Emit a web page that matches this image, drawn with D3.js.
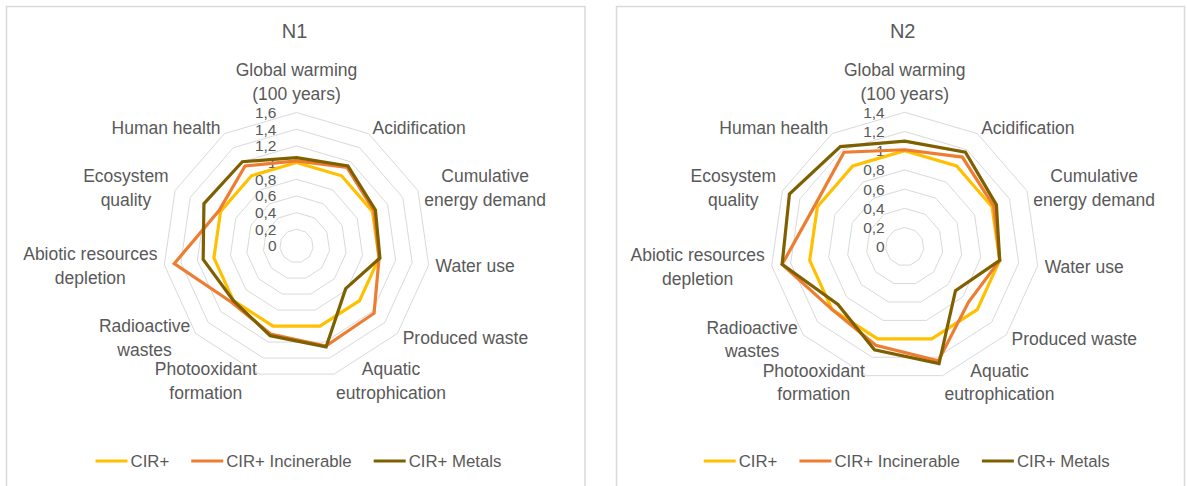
<!DOCTYPE html>
<html>
<head>
<meta charset="utf-8">
<script src="https://cdn.jsdelivr.net/npm/d3@7"></script>
<style>
  body { margin: 0; background: #fff; }
  text { font-family: "Liberation Sans", Arial, sans-serif; fill: #595959; }
</style>
</head>
<body>
<svg id="chart" width="1187" height="486"></svg>
<script>
// categories (clockwise from the top)
const axes = [
  "Global warming\n(100 years)", "Acidification", "Cumulative\nenergy demand", "Water use",
  "Produced waste", "Aquatic\neutrophication", "Photooxidant\nformation", "Radioactive\nwastes",
  "Abiotic resources\ndepletion", "Ecosystem\nquality", "Human health"
];
const seriesNames = ["CIR+", "CIR+ Incinerable", "CIR+ Metals"];
const colors = ["#FFC000", "#ED7D31", "#7F6000"];

// N1 values
const n1Cir = [1, 1, 1, 1, 1, 1, 1, 1, 1, 1, 1];
const n1Incinerable = [1.02, 1.12, 1.02, 1.0, 1.23, 1.25, 1.10, 1.03, 1.48, 1.02, 1.14];
const n1Metals = [1.06, 1.14, 1.04, 1.01, 0.78, 1.26, 1.12, 1.0, 1.13, 1.22, 1.20];
const n1Ticks = [0, 0.2, 0.4, 0.6, 0.8, 1, 1.2, 1.4, 1.6];

// N2 values
const n2Cir = [1, 1, 1, 1, 1, 1, 1, 1, 1, 1, 1];
const n2Incinerable = [1.01, 1.11, 1.02, 1.0, 0.88, 1.24, 1.07, 1.0, 1.29, 1.03, 1.17];
const n2Metals = [1.10, 1.17, 1.05, 1.0, 0.70, 1.27, 1.12, 0.92, 1.29, 1.32, 1.24];
const n2Ticks = [0, 0.2, 0.4, 0.6, 0.8, 1, 1.2, 1.4];

const svg = d3.select("#chart");

const charts = [
  { title: "N1", series: [n1Cir, n1Incinerable, n1Metals], ticks: n1Ticks,
    box: [6.5, 6.5, 578.5], cx: 296.5, cy: 246, R: 133.5 },
  { title: "N2", series: [n2Cir, n2Incinerable, n2Metals], ticks: n2Ticks,
    box: [616.5, 6.5, 568], cx: 904.7, cy: 246.7, R: 134.4 }
];

const lineH = 23.5;

charts.forEach(c => drawRadar(c));

function drawRadar(c) {
  // panel border
  svg.append("rect")
     .attr("x", c.box[0]).attr("y", c.box[1])
     .attr("width", c.box[2]).attr("height", 500)
     .attr("fill", "none")
     .attr("stroke", "#d9d9d9")
     .attr("stroke-width", 1.5);

  const g = svg.append("g").attr("transform", `translate(${c.cx},${c.cy})`);

  const r = d3.scaleLinear().domain([0, d3.max(c.ticks)]).range([0, c.R]);
  const angle = d3.scaleLinear().domain([0, axes.length]).range([0, 2 * Math.PI]);

  const radial = d3.lineRadial()
    .angle((d, i) => angle(i))
    .radius(d => r(d))
    .curve(d3.curveLinearClosed);

  // grid rings
  g.selectAll(".ring")
   .data(c.ticks.filter(t => t > 0))
   .enter().append("path")
   .attr("d", t => radial(axes.map(() => t)))
   .attr("fill", "none")
   .attr("stroke", "#d9d9d9")
   .attr("stroke-width", 1);

  // tick labels
  g.selectAll(".tick")
   .data(c.ticks)
   .enter().append("text")
   .attr("x", -20)
   .attr("y", t => -r(t))
   .attr("dy", "0.35em")
   .attr("text-anchor", "end")
   .attr("font-size", "15.5px")
   .text(t => String(t).replace(".", ","));

  // series
  c.series.forEach((vals, k) => {
    g.append("path")
     .attr("d", radial(vals))
     .attr("fill", "none")
     .attr("stroke", colors[k])
     .attr("stroke-width", 3.2)
     .attr("stroke-linejoin", "miter");
  });

  // axis labels
  const Rl = c.R + 7;
  axes.forEach((label, i) => {
    const a = angle(i);
    const px = Rl * Math.sin(a), py = -Rl * Math.cos(a);
    const lines = label.split("\n");
    const t = g.append("text").attr("font-size", "17.5px").attr("text-anchor", "middle");
    const spans = lines.map(l => t.append("tspan").text(l));
    const w = d3.max(spans, s => s.node().getComputedTextLength());
    let x0;
    if (Math.abs(Math.sin(a)) < 0.01) x0 = px;
    else if (Math.sin(a) > 0) x0 = px + w / 2;
    else x0 = px - w / 2;
    spans.forEach((s, j) => {
      let yc;
      if (i === 0) yc = py - (lines.length - 1 - j) * lineH - lineH / 2;
      else yc = py + (j - (lines.length - 1) / 2) * lineH;
      s.attr("x", x0).attr("y", yc).attr("dy", "0.35em");
    });
  });

  // title
  svg.append("text")
     .attr("x", c.cx - 2)
     .attr("y", 31)
     .attr("dy", "0.35em")
     .attr("text-anchor", "middle")
     .attr("font-size", "20px")
     .text(c.title);

  // legend
  const lg = svg.append("g");
  let x = 0;
  seriesNames.forEach((name, k) => {
    const item = lg.append("g").attr("transform", `translate(${x},0)`);
    item.append("line")
        .attr("x1", 0).attr("x2", 32)
        .attr("y1", 0).attr("y2", 0)
        .attr("stroke", colors[k])
        .attr("stroke-width", 3);
    const tx = item.append("text")
        .attr("x", 35)
        .attr("dy", "0.35em")
        .attr("font-size", "16.8px")
        .text(name);
    x += 35 + tx.node().getComputedTextLength() + 22;
  });
  const total = x - 22;
  lg.attr("transform", `translate(${c.cx + 2 - total / 2},461)`);
}
</script>
</body>
</html>
